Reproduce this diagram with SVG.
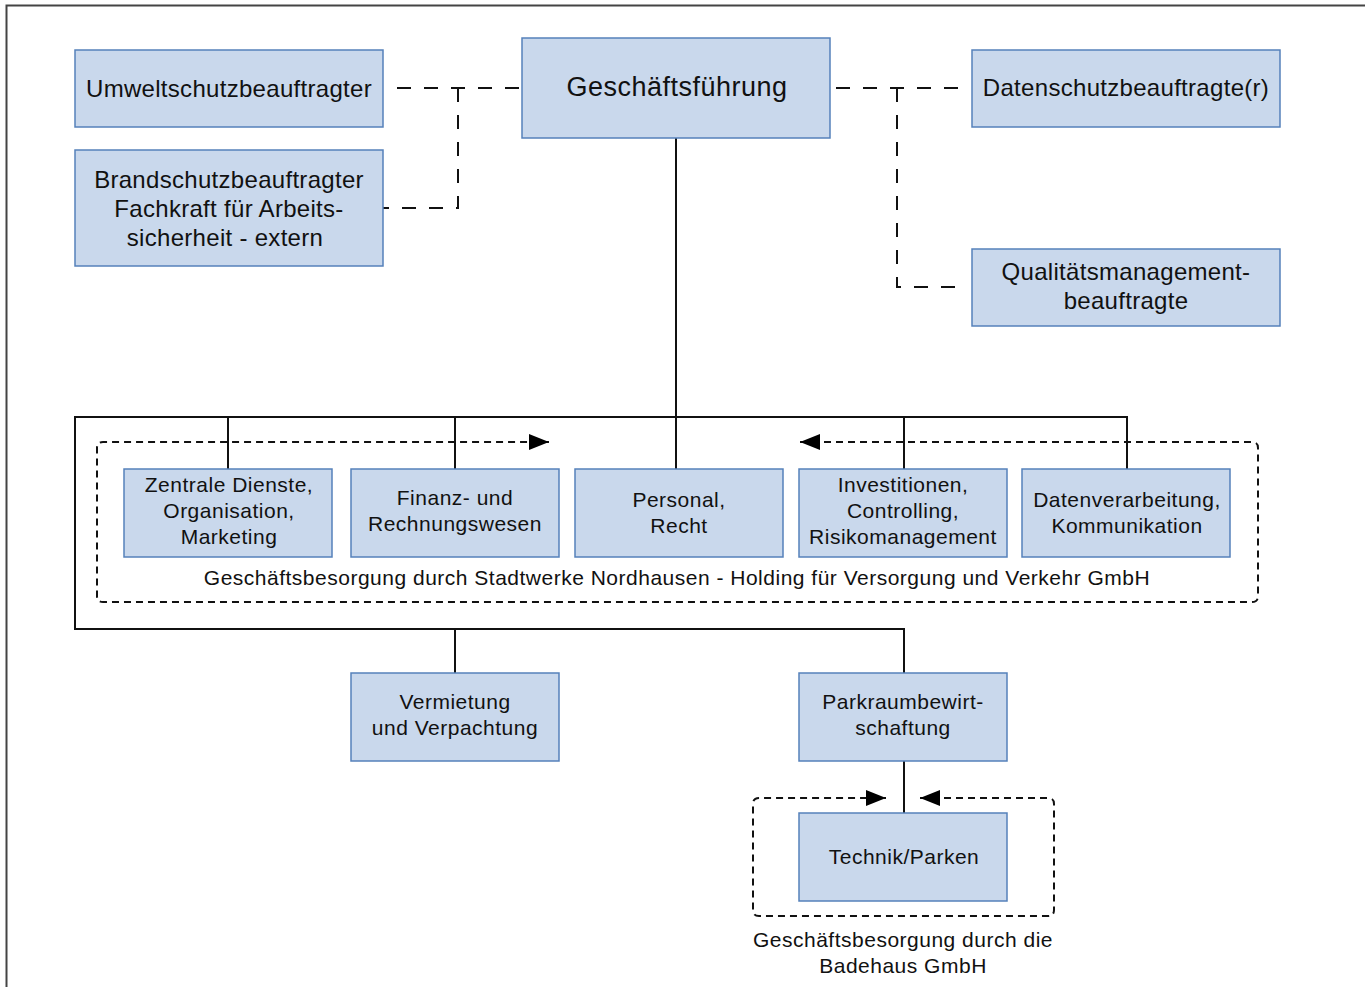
<svg xmlns="http://www.w3.org/2000/svg" width="1365" height="987" viewBox="0 0 1365 987">
  <style>
    .box { fill: #c9d8ec; stroke: #5581bb; stroke-width: 1.5; }
    .t { font-family: "Liberation Sans", Arial, sans-serif; fill: #111; text-anchor: middle; }
    .t22 { font-size: 24px; letter-spacing: 0.3px; }
    .t20 { font-size: 21px; letter-spacing: 0.5px; }
    .t26 { font-size: 27px; letter-spacing: 0.5px; }
    .solid { fill: none; stroke: #111; stroke-width: 2; }
    .dashL { fill: none; stroke: #111; stroke-width: 2; stroke-dasharray: 14 13; }
    .dashS { fill: none; stroke: #111; stroke-width: 2; stroke-dasharray: 7 5; }
  </style>
  <defs>
    <marker id="arrow" viewBox="0 0 20 16" markerWidth="20" markerHeight="16" refX="20" refY="8" markerUnits="userSpaceOnUse" orient="auto-start-reverse">
      <path d="M0,0 L20,8 L0,16 z" fill="#000" stroke="none"/>
    </marker>
  </defs>

  <rect width="1365" height="987" fill="#fff"/>
  <!-- page frame -->
  <path d="M6.5 987 V5.5 H1365" fill="none" stroke="#444" stroke-width="2"/>

  <g id="connectors">
    <!-- staff positions (dashed) -->
    <path class="dashL" d="M397 88 H522"/>
    <path class="dashL" d="M458 88 V208 H383"/>
    <path class="dashL" d="M836 88 H962"/>
    <path class="dashL" d="M897 88 V287 H962"/>
    <!-- hierarchy lines -->
    <path class="solid" d="M676 138 V469"/>
    <path class="solid" d="M1127 469 V417 H75 V629 H904 V673"/>
    <path class="solid" d="M228 417 V469"/>
    <path class="solid" d="M455 417 V469"/>
    <path class="solid" d="M904 417 V469"/>
    <path class="solid" d="M455 629 V673"/>
    <path class="solid" d="M904 761 V813"/>
    <!-- service boundaries -->
    <path class="dashS" d="M800 442 H1252 Q1258 442 1258 448 V596 Q1258 602 1252 602 H103 Q97 602 97 596 V448 Q97 442 103 442 H549" marker-start="url(#arrow)" marker-end="url(#arrow)"/>
    <path class="dashS" d="M920 798 H1048 Q1054 798 1054 804 V910 Q1054 916 1048 916 H759 Q753 916 753 910 V804 Q753 798 759 798 H886" marker-start="url(#arrow)" marker-end="url(#arrow)"/>
  </g>

  <g id="umweltschutz">
    <rect class="box" x="75" y="50" width="308" height="77"/>
    <text class="t t22" x="229" y="97">Umweltschutzbeauftragter</text>
  </g>
  <g id="brandschutz">
    <rect class="box" x="75" y="150" width="308" height="116"/>
    <text class="t t22" x="229" y="188">Brandschutzbeauftragter</text>
    <text class="t t22" x="229" y="217">Fachkraft für Arbeits-</text>
    <text class="t t22" x="225" y="246">sicherheit - extern</text>
  </g>
  <g id="geschaeftsfuehrung">
    <rect class="box" x="522" y="38" width="308" height="100"/>
    <text class="t t26" x="677" y="96">Geschäftsführung</text>
  </g>
  <g id="datenschutz">
    <rect class="box" x="972" y="50" width="308" height="77"/>
    <text class="t t22" x="1126" y="96">Datenschutzbeauftragte(r)</text>
  </g>
  <g id="qualitaet">
    <rect class="box" x="972" y="249" width="308" height="77"/>
    <text class="t t22" x="1126" y="280">Qualitätsmanagement-</text>
    <text class="t t22" x="1126" y="309">beauftragte</text>
  </g>

  <g id="zentrale">
    <rect class="box" x="124" y="469" width="208" height="88"/>
    <text class="t t20" x="229" y="492">Zentrale Dienste,</text>
    <text class="t t20" x="229" y="518">Organisation,</text>
    <text class="t t20" x="229" y="544">Marketing</text>
  </g>
  <g id="finanz">
    <rect class="box" x="351" y="469" width="208" height="88"/>
    <text class="t t20" x="455" y="505">Finanz- und</text>
    <text class="t t20" x="455" y="531">Rechnungswesen</text>
  </g>
  <g id="personal">
    <rect class="box" x="575" y="469" width="208" height="88"/>
    <text class="t t20" x="679" y="507">Personal,</text>
    <text class="t t20" x="679" y="533">Recht</text>
  </g>
  <g id="investitionen">
    <rect class="box" x="799" y="469" width="208" height="88"/>
    <text class="t t20" x="903" y="492">Investitionen,</text>
    <text class="t t20" x="903" y="518">Controlling,</text>
    <text class="t t20" x="903" y="544">Risikomanagement</text>
  </g>
  <g id="datenverarbeitung">
    <rect class="box" x="1022" y="469" width="208" height="88"/>
    <text class="t t20" x="1127" y="507">Datenverarbeitung,</text>
    <text class="t t20" x="1127" y="533">Kommunikation</text>
  </g>
  <text class="t t20" x="677" y="585">Geschäftsbesorgung durch Stadtwerke Nordhausen - Holding für Versorgung und Verkehr GmbH</text>

  <g id="vermietung">
    <rect class="box" x="351" y="673" width="208" height="88"/>
    <text class="t t20" x="455" y="709">Vermietung</text>
    <text class="t t20" x="455" y="735">und Verpachtung</text>
  </g>
  <g id="parkraum">
    <rect class="box" x="799" y="673" width="208" height="88"/>
    <text class="t t20" x="903" y="709">Parkraumbewirt-</text>
    <text class="t t20" x="903" y="735">schaftung</text>
  </g>
  <g id="technik">
    <rect class="box" x="799" y="813" width="208" height="88"/>
    <text class="t t20" x="904" y="864">Technik/Parken</text>
  </g>
  <text class="t t20" x="903" y="947">Geschäftsbesorgung durch die</text>
  <text class="t t20" x="903" y="973">Badehaus GmbH</text>
</svg>
